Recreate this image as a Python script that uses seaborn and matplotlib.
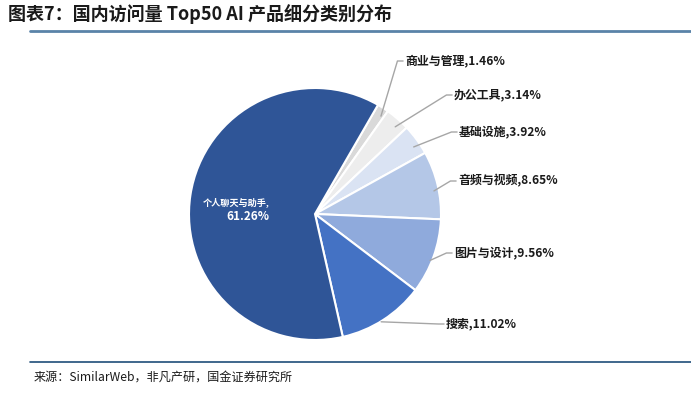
import matplotlib
matplotlib.use("Agg")
import matplotlib.pyplot as plt
import seaborn as sns
import numpy as np
from matplotlib.lines import Line2D

categories = ["商业与管理", "办公工具", "基础设施", "音频与视频", "图片与设计", "搜索", "个人聊天与助手"]
values = [1.46, 3.14, 3.92, 8.65, 9.56, 11.02, 61.26]
colors = ["#D9D9D9", "#EDEDED", "#DAE3F3", "#B4C7E7", "#8FAADC", "#4472C4", "#2F5597"]

sns.set_theme(style="white")
plt.rcParams['font.family'] = ['Noto Sans CJK SC', 'DejaVu Sans']

W, H = 691, 397
fig = plt.figure(figsize=(W / 100, H / 100), dpi=100)

cx, cy, R = 315, 214, 126
ax = fig.add_axes([(cx - R) / W, (H - cy - R) / H, 2 * R / W, 2 * R / H])
wedges, _ = ax.pie(values, colors=colors, startangle=60, counterclock=False,
                   wedgeprops=dict(edgecolor="white", linewidth=1.5))
ax.set_xlim(-1, 1)
ax.set_ylim(-1, 1)
ax.set_axis_off()

def px(x, y):
    return (x - cx) / R, (cy - y) / R

label_pos = [px(405, 61), px(454, 95), px(459, 132), px(458, 181), px(454, 253), px(446, 324)]
for i, (w, (tx, ty)) in enumerate(zip(wedges[:-1], label_pos)):
    ang = np.deg2rad((w.theta1 + w.theta2) / 2)
    x0, y0 = 0.97 * np.cos(ang), 0.97 * np.sin(ang) - 0.04
    xe = tx - 0.06
    ax.plot([x0, xe, tx - 0.015], [y0, ty, ty], color="#A6A6A6", lw=1, clip_on=False)
    ax.text(tx, ty, f"{categories[i]},{values[i]:.2f}%", ha="left", va="center",
            fontsize=8.6, fontweight="bold", color="#1a1a1a", clip_on=False)

m1x, m1y = px(236, 202)
ax.text(m1x, m1y, f"{categories[-1]},", ha="center", va="center",
        fontsize=6.6, fontweight="bold", color="white")
m2x, m2y = px(248, 216)
ax.text(m2x, m2y, f"{values[-1]:.2f}%", ha="center", va="center",
        fontsize=8.4, fontweight="bold", color="white")

fig.text(8 / W, 1 - 14 / H, "图表7：国内访问量 Top50 AI 产品细分类别分布", ha="left", va="center",
         fontsize=13, fontweight="bold", fontstyle="italic", color="#1a1a1a")
fig.add_artist(Line2D([30 / W, 1], [1 - 31 / H, 1 - 31 / H], color="#5A83A8", lw=2))
fig.add_artist(Line2D([30 / W, 1], [1 - 362 / H, 1 - 362 / H], color="#1F4E79", lw=1.2))
fig.text(34 / W, 1 - 377 / H, "来源：SimilarWeb，非凡产研，国金证券研究所", ha="left", va="center",
         fontsize=8.7, color="#1a1a1a")

fig.savefig("out.png", dpi=100)
